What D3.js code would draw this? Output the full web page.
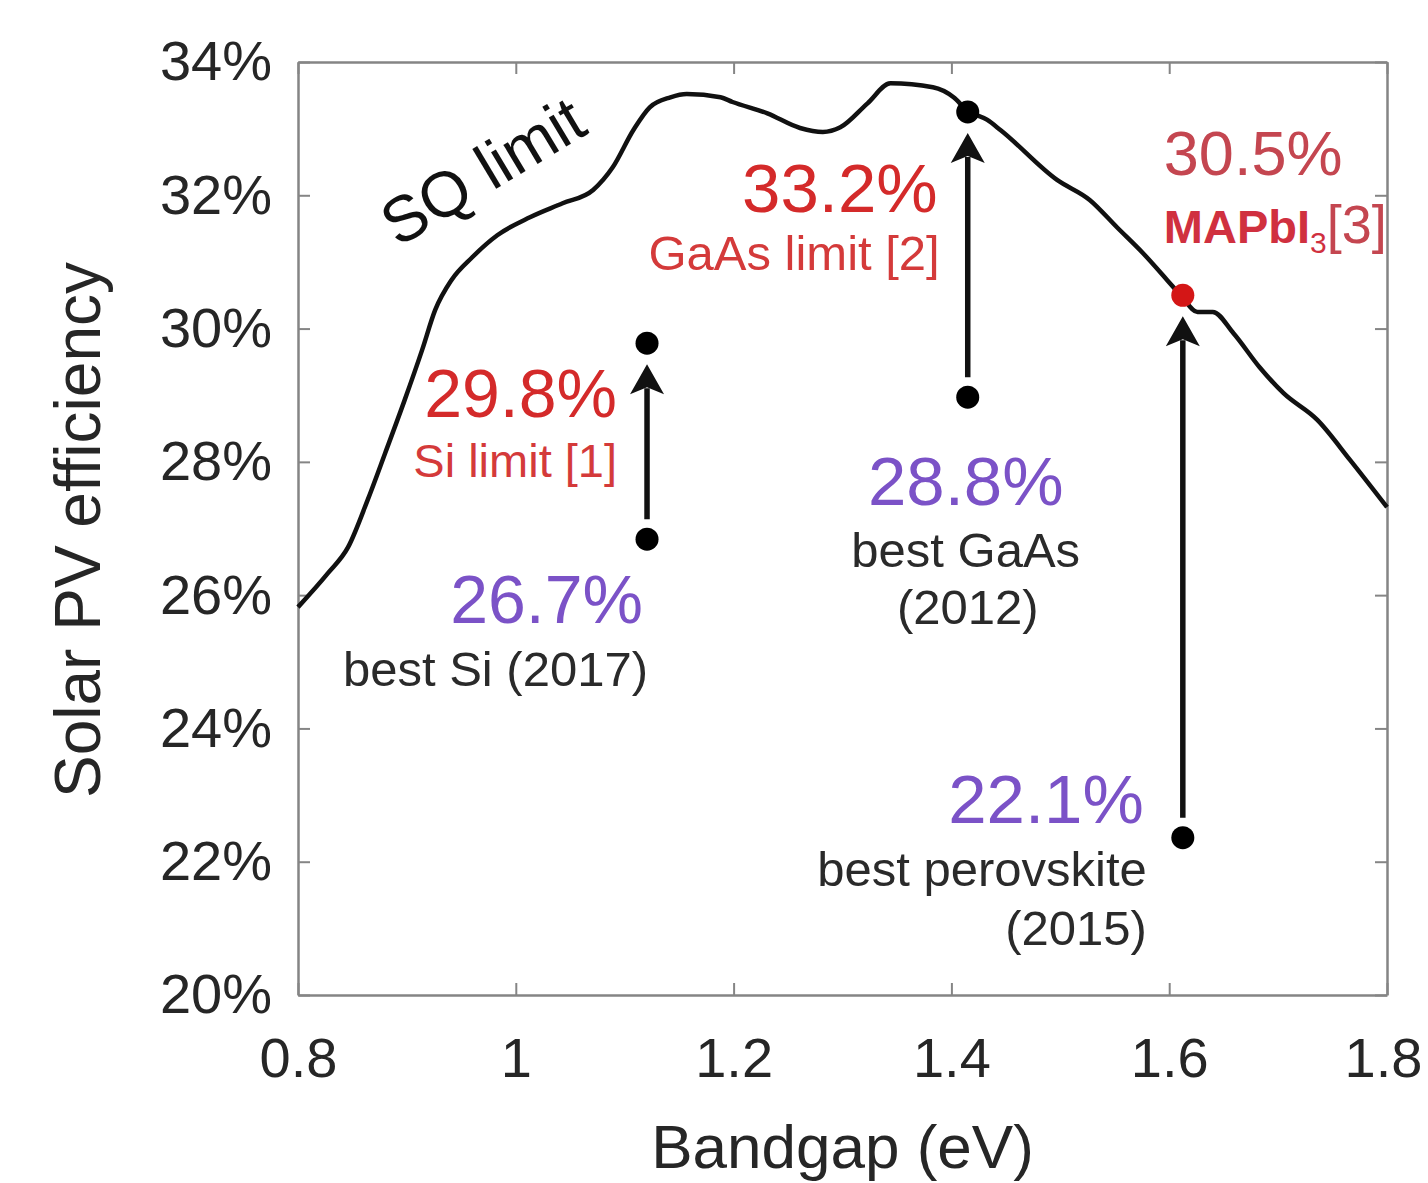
<!DOCTYPE html>
<html>
<head>
  <title>SQ limit vs bandgap</title>
  <script src="https://d3js.org/d3.v7.min.js"></script>
  <style>
    body { margin: 0; background: #fff; }
    text { font-family: "Liberation Sans", Arial, sans-serif; }
  </style>
</head>
<body>
  <div id="chart"></div>

  <script>
    // Shockley-Queisser limit curve
    var sqBandgap = [0.800, 0.8275, 0.846, 0.864, 0.880, 0.898, 0.914, 0.926, 0.941, 0.960,
      0.983, 1.013, 1.043, 1.071, 1.089, 1.108, 1.123, 1.142, 1.157, 1.188, 1.199, 1.231,
      1.261, 1.282, 1.298, 1.323, 1.344, 1.383, 1.402, 1.414, 1.433, 1.445, 1.497, 1.527,
      1.552, 1.576, 1.598, 1.612, 1.626, 1.640, 1.659, 1.683, 1.705, 1.736, 1.766, 1.800];
    var sqEfficiency = [25.82, 26.33, 26.72, 27.43, 28.13, 28.93, 29.68, 30.28, 30.73, 31.07,
      31.40, 31.67, 31.88, 32.08, 32.42, 32.98, 33.32, 33.47, 33.52, 33.47, 33.40, 33.23,
      33.01, 32.95, 33.02, 33.38, 33.68, 33.62, 33.47, 33.28, 33.13, 32.98, 32.23, 31.93,
      31.52, 31.13, 30.73, 30.47, 30.25, 30.25, 29.93, 29.42, 29.03, 28.63, 28.03, 27.32];

    // cells: Si, GaAs, perovskite
    var cellBandgap = [1.1205, 1.415, 1.6125];
    var limitEfficiency = [29.78, 33.25, 30.5];
    var bestEfficiency = [26.84, 28.97, 22.36];

    var xTicks = [0.8, 1, 1.2, 1.4, 1.6, 1.8];
    var xTickLabels = ["0.8", "1", "1.2", "1.4", "1.6", "1.8"];
    var yTicks = [20, 22, 24, 26, 28, 30, 32, 34];
    var yTickLabels = ["20%", "22%", "24%", "26%", "28%", "30%", "32%", "34%"];

    var width = 1428, height = 1183;
    var plotLeft = 298, plotRight = 1387, plotTop = 62, plotBottom = 995;

    var x = d3.scaleLinear().domain([0.8, 1.8]).range([plotLeft, plotRight]);
    var y = d3.scaleLinear().domain([20, 34]).range([plotBottom, plotTop]);

    var svg = d3.select("#chart")
      .append("svg")
      .attr("width", width)
      .attr("height", height);

    var axisColor = "#858585";

    function styleAxis(g) {
      g.select(".domain").attr("stroke", axisColor).attr("stroke-width", 2.5);
      g.selectAll(".tick line").attr("stroke", axisColor).attr("stroke-width", 2);
      g.selectAll(".tick text")
        .attr("fill", "#262626")
        .style("font-size", "56px")
        .style("font-family", "'Liberation Sans', Arial, sans-serif");
    }

    svg.append("g")
      .attr("transform", "translate(0," + plotBottom + ")")
      .call(d3.axisBottom(x).tickValues(xTicks)
        .tickFormat(function(d, i) { return xTickLabels[i]; })
        .tickSizeInner(-12).tickSizeOuter(0).tickPadding(42))
      .call(styleAxis);

    // keep the last x label inside the page
    svg.selectAll(".tick text").filter(function(d) { return d === 1.8; })
      .attr("dx", -4);

    svg.append("g")
      .attr("transform", "translate(0," + plotTop + ")")
      .call(d3.axisTop(x).tickValues(xTicks).tickFormat("")
        .tickSizeInner(-12).tickSizeOuter(0))
      .call(styleAxis);

    svg.append("g")
      .attr("transform", "translate(" + plotLeft + ",0)")
      .call(d3.axisLeft(y).tickValues(yTicks)
        .tickFormat(function(d, i) { return yTickLabels[i]; })
        .tickSizeInner(-12).tickSizeOuter(0).tickPadding(26))
      .call(styleAxis);

    svg.append("g")
      .attr("transform", "translate(" + plotRight + ",0)")
      .call(d3.axisRight(y).tickValues(yTicks).tickFormat("")
        .tickSizeInner(-12).tickSizeOuter(0))
      .call(styleAxis);

    // axis titles
    svg.append("text")
      .attr("x", (plotLeft + plotRight) / 2)
      .attr("y", 1168)
      .attr("text-anchor", "middle")
      .attr("fill", "#262626")
      .style("font-size", "62px")
      .text("Bandgap (eV)");

    svg.append("text")
      .attr("transform", "translate(100,530) rotate(-90)")
      .attr("text-anchor", "middle")
      .attr("fill", "#262626")
      .style("font-size", "64px")
      .text("Solar PV efficiency");

    // SQ curve
    var sq = sqBandgap.map(function(d, i) { return [d, sqEfficiency[i]]; });
    var line = d3.line()
      .x(function(d) { return x(d[0]); })
      .y(function(d) { return y(d[1]); })
      .curve(d3.curveMonotoneX);

    svg.append("path")
      .datum(sq)
      .attr("d", line)
      .attr("fill", "none")
      .attr("stroke", "#111")
      .attr("stroke-width", 4.5)
      .attr("stroke-linejoin", "round");

    svg.append("text")
      .attr("transform", "translate(494,190) rotate(-31)")
      .attr("text-anchor", "middle")
      .attr("fill", "#111")
      .style("font-size", "64px")
      .text("SQ limit");

    // arrows from best cell to limit
    var dotColors = ["#000", "#000", "#d41616"];
    cellBandgap.forEach(function(b, i) {
      var cx = x(b);
      var yLow = y(bestEfficiency[i]) - 20;
      var yTip = y(limitEfficiency[i]) + 21;
      svg.append("line")
        .attr("x1", cx).attr("x2", cx)
        .attr("y1", yLow).attr("y2", yTip + 24)
        .attr("stroke", "#111")
        .attr("stroke-width", 5.5);
      svg.append("path")
        .attr("transform", "translate(" + cx + "," + yTip + ")")
        .attr("d", "M0,0 L17,30 L0,23 L-17,30 Z")
        .attr("fill", "#111");
      svg.append("circle")
        .attr("cx", cx).attr("cy", y(bestEfficiency[i]))
        .attr("r", 11.5).attr("fill", "#000");
      svg.append("circle")
        .attr("cx", cx).attr("cy", y(limitEfficiency[i]))
        .attr("r", 11.5).attr("fill", dotColors[i]);
    });

    var red = "#d42a2a", purple = "#7b52c7", dark = "#2a2a2a";

    // labels, placed relative to each cell's marker
    var labels = [
      { t: "29.8%", c: 0, v: "limit", dx: -30, dy: 74, a: "end", s: 68, col: red },
      { t: "Si limit [1]", c: 0, v: "limit", dx: -30, dy: 134, a: "end", s: 47, col: "#d43a3a" },
      { t: "26.7%", c: 0, v: "best", dx: -4, dy: 84, a: "end", s: 68, col: purple },
      { t: "best Si (2017)", c: 0, v: "best", dx: 1, dy: 147, a: "end", s: 49, col: dark },
      { t: "33.2%", c: 1, v: "limit", dx: -30, dy: 100, a: "end", s: 69, col: red },
      { t: "GaAs limit [2]", c: 1, v: "limit", dx: -28, dy: 158, a: "end", s: 49, col: "#d43a3a" },
      { t: "28.8%", c: 1, v: "best", dx: -2, dy: 108, a: "middle", s: 69, col: purple },
      { t: "best GaAs", c: 1, v: "best", dx: -2, dy: 170, a: "middle", s: 49, col: dark },
      { t: "(2012)", c: 1, v: "best", dx: 0, dy: 227, a: "middle", s: 49, col: dark },
      { t: "30.5%", c: 2, v: "limit", dx: -19, dy: -120, a: "start", s: 63, col: "#c44650" },
      { t: "22.1%", c: 2, v: "best", dx: -39, dy: -15, a: "end", s: 69, col: purple },
      { t: "best perovskite", c: 2, v: "best", dx: -36, dy: 48, a: "end", s: 49, col: dark },
      { t: "(2015)", c: 2, v: "best", dx: -36, dy: 107, a: "end", s: 49, col: dark }
    ];

    labels.forEach(function(l) {
      var val = l.v === "limit" ? limitEfficiency[l.c] : bestEfficiency[l.c];
      svg.append("text")
        .attr("x", x(cellBandgap[l.c]) + l.dx)
        .attr("y", y(val) + l.dy)
        .attr("text-anchor", l.a)
        .attr("fill", l.col)
        .style("font-size", l.s + "px")
        .text(l.t);
    });

    // MAPbI3 [3] with subscript
    var mapi = svg.append("text")
      .attr("x", x(cellBandgap[2]) - 19)
      .attr("y", y(limitEfficiency[2]) - 52)
      .attr("fill", "#d0303f")
      .style("font-size", "50px");
    mapi.append("tspan").style("font-weight", "bold").style("font-size", "47px").text("MAPbI");
    mapi.append("tspan").attr("dy", 10).style("font-size", "30px").text("3");
    mapi.append("tspan").attr("dy", -10).attr("fill", "#c44650").style("font-size", "54px").text("[3]");
  </script>
</body>
</html>
